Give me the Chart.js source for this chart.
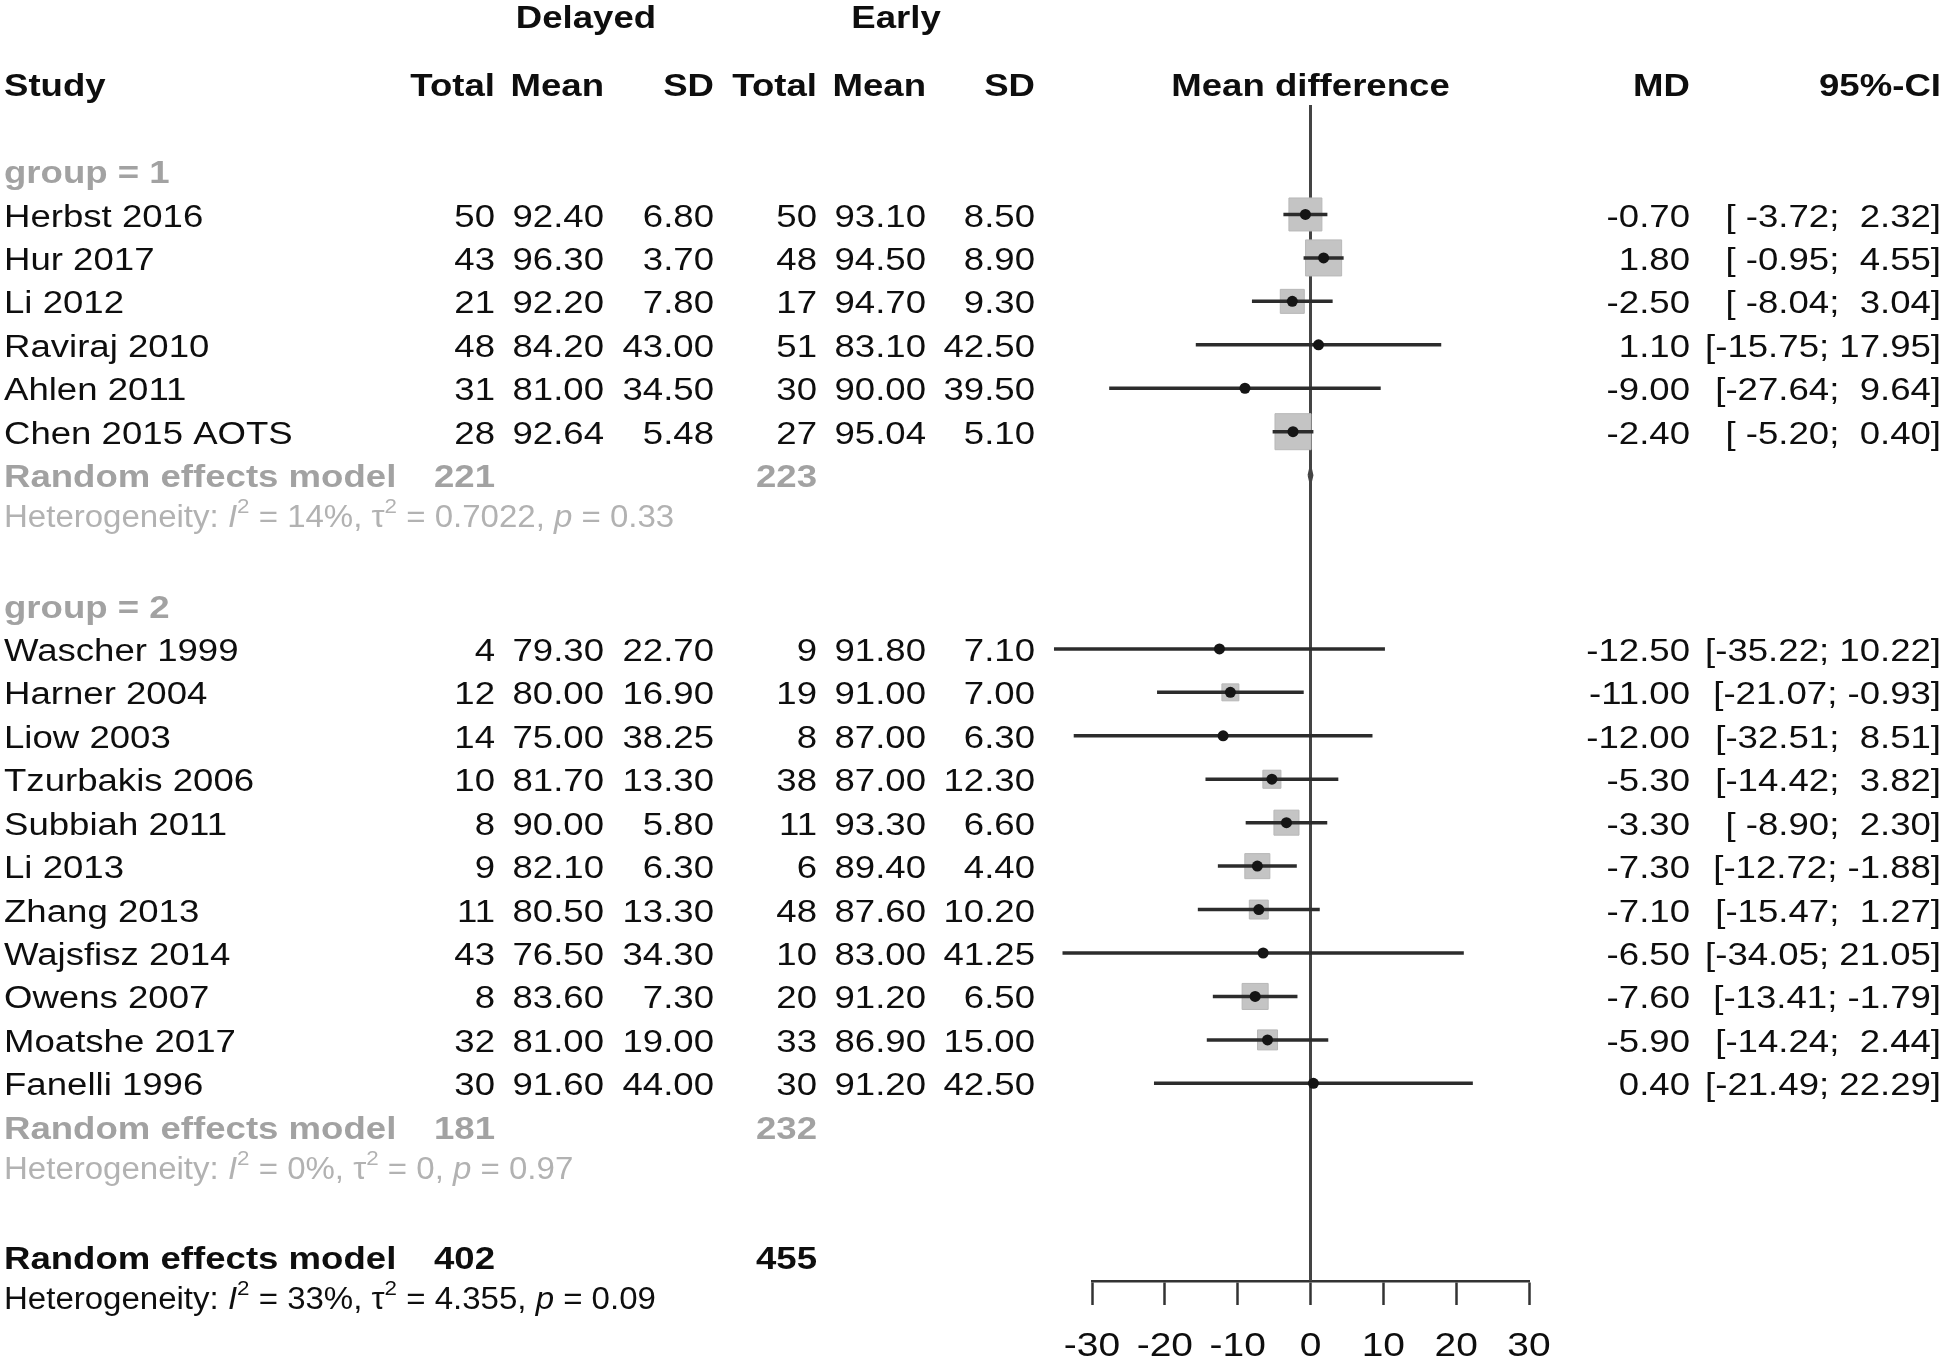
<!DOCTYPE html>
<html><head><meta charset="utf-8">
<script src="https://cdn.jsdelivr.net/npm/chart.js@4/dist/chart.umd.min.js"></script>
<style>html,body{margin:0;padding:0;background:#fff;}canvas{display:block;}</style>
</head><body>
<canvas id="c" width="1946" height="1361"></canvas>
<script>
// ---------- data ----------
const studies1 = ["Herbst 2016","Hur 2017","Li 2012","Raviraj 2010","Ahlen 2011","Chen 2015 AOTS"];
const delayedTotal1 = [50,43,21,48,31,28];
const delayedMean1 = [92.40,96.30,92.20,84.20,81.00,92.64];
const delayedSD1 = [6.80,3.70,7.80,43.00,34.50,5.48];
const earlyTotal1 = [50,48,17,51,30,27];
const earlyMean1 = [93.10,94.50,94.70,83.10,90.00,95.04];
const earlySD1 = [8.50,8.90,9.30,42.50,39.50,5.10];
const md1 = [-0.70,1.80,-2.50,1.10,-9.00,-2.40];
const lower1 = [-3.72,-0.95,-8.04,-15.75,-27.64,-5.20];
const upper1 = [2.32,4.55,3.04,17.95,9.64,0.40];
const weight1 = [17.0,20.3,9.0,0.25,0.25,20.3];

const studies2 = ["Wascher 1999","Harner 2004","Liow 2003","Tzurbakis 2006","Subbiah 2011","Li 2013","Zhang 2013","Wajsfisz 2014","Owens 2007","Moatshe 2017","Fanelli 1996"];
const delayedTotal2 = [4,12,14,10,8,9,11,43,8,32,30];
const delayedMean2 = [79.30,80.00,75.00,81.70,90.00,82.10,80.50,76.50,83.60,81.00,91.60];
const delayedSD2 = [22.70,16.90,38.25,13.30,5.80,6.30,13.30,34.30,7.30,19.00,44.00];
const earlyTotal2 = [9,19,8,38,11,6,48,10,20,33,30];
const earlyMean2 = [91.80,91.00,87.00,87.00,93.30,89.40,87.60,83.00,91.20,86.90,91.20];
const earlySD2 = [7.10,7.00,6.30,12.30,6.60,4.40,10.20,41.25,6.50,15.00,42.50];
const md2 = [-12.50,-11.00,-12.00,-5.30,-3.30,-7.30,-7.10,-6.50,-7.60,-5.90,0.40];
const lower2 = [-35.22,-21.07,-32.51,-14.42,-8.90,-12.72,-15.47,-34.05,-13.41,-14.24,-21.49];
const upper2 = [10.22,-0.93,8.51,3.82,2.30,-1.88,1.27,21.05,-1.79,2.44,22.29];
const weight2 = [0.25,4.5,0.25,5.1,9.8,9.8,5.6,0.25,10.6,6.25,0.25];

const groupLabels = ["group = 1","group = 2"];
const groupTotalsDelayed = [221,181];
const groupTotalsEarly = [223,232];
const groupI2 = ["14%","0%"];
const groupTau2 = ["0.7022","0"];
const groupP = ["0.33","0.97"];
const pooled1 = [-0.3, 0.0, 0.3]; // tiny subgroup-1 summary diamond (lo, est, hi)

const overallDelayed = 402, overallEarly = 455;
const overallI2 = "33%", overallTau2 = "4.355", overallP = "0.09";

const xTickValues = [-30,-20,-10,0,10,20,30];

// ---------- layout rows ----------
const rowsG1 = studies1.map((_, i) => 1 + i);            // 1..6
const reRow1 = 7, hetRow1 = 8, grpRow1 = 0;
const grpRow2 = 10;
const rowsG2 = studies2.map((_, i) => 11 + i);           // 11..21
const reRow2 = 22, hetRow2 = 23;
const reRowAll = 25, hetRowAll = 26;
const Y_MIN = -1.52, Y_MAX = 25.55;

const FONT = "'Liberation Sans', Arial, Helvetica, sans-serif";
const SX = 1.18;
const TY = 3.5; // baseline nudge for table text

function fmt(v){ return v.toFixed(2); }
function ciStr(lo, hi){ return "[" + fmt(lo).padStart(6," ") + "; " + fmt(hi).padStart(5," ") + "]"; }

// ---------- datasets ----------
const datasets = [];
const allMD = md1.concat(md2), allLo = lower1.concat(lower2), allHi = upper1.concat(upper2);
const allRows = rowsG1.concat(rowsG2), allW = weight1.concat(weight2);

// dots (top)
datasets.push({type:'scatter', order:0, clip:false,
  data: allMD.map((m,i)=>({x:m, y:allRows[i]})),
  pointStyle:'circle', pointRadius:5.5, backgroundColor:'#151515', borderWidth:0});
// CI lines
allMD.forEach((m,i)=>{
  datasets.push({type:'line', order:1, clip:false,
    data:[{x:allLo[i], y:allRows[i]},{x:allHi[i], y:allRows[i]}],
    borderColor:'#2c2c2c', borderWidth:3.5, pointRadius:0});
});
// subgroup 1 tiny diamond
datasets.push({type:'line', order:1, clip:false,
  data:[{x:pooled1[0],y:reRow1},{x:pooled1[1],y:reRow1-0.22},{x:pooled1[2],y:reRow1},{x:pooled1[1],y:reRow1+0.22},{x:pooled1[0],y:reRow1}],
  borderColor:'#444', borderWidth:1.5, pointRadius:0});
// squares
datasets.push({type:'scatter', order:2, clip:false,
  data: allMD.map((m,i)=>({x:m, y:allRows[i]})),
  pointStyle:'rect', pointRadius: allW.map(w => 8*Math.sqrt(w)/ (2*Math.SQRT1_2)),
  backgroundColor:'#c4c4c4', borderColor:'#b8b8b8', borderWidth:1});
// zero line
datasets.push({type:'line', order:3, clip:false,
  data:[{x:0,y:Y_MIN},{x:0,y:Y_MAX}], borderColor:'#444', borderWidth:3, pointRadius:0});

// ---------- text plugin ----------
function drawText(ctx, s, x, y, opt){
  ctx.save();
  ctx.font = opt.font;
  ctx.fillStyle = opt.color || '#0e0e0e';
  ctx.textBaseline = 'middle';
  ctx.textAlign = opt.align || 'left';
  ctx.translate(x, y);
  ctx.scale(opt.sx || SX, 1);
  ctx.fillText(s, 0, 0);
  ctx.restore();
}
function drawHet(ctx, x, y, I2, tau2, p, color){
  const size = 31, sx = 1.065;
  const segs = [["Heterogeneity: ","n"],["I","i"],["2","s"],[" = "+I2+", ","n"],["\u03C4","n"],["2","s"],[" = "+tau2+", ","n"],["p","i"],[" = "+p,"n"]];
  let cx = x;
  ctx.save();
  ctx.fillStyle = color; ctx.textBaseline = 'middle'; ctx.textAlign = 'left';
  segs.forEach(([t,k])=>{
    let f, dy = 0;
    if (k === 'n') f = size + "px " + FONT;
    else if (k === 'i') f = "italic " + size + "px " + FONT;
    else { f = Math.round(size*0.68) + "px " + FONT; dy = -11; }
    ctx.font = f;
    ctx.save(); ctx.translate(cx, y + dy); ctx.scale(sx,1); ctx.fillText(t,0,0); ctx.restore();
    cx += ctx.measureText(t).width * sx;
  });
  ctx.restore();
}

const COL = {study:4, dT:495, dM:604, dS:714, eT:817, eM:926, eS:1035, md:1690, ci:1941};

const textPlugin = {
  id:'forestText',
  afterDraw(chart){
    const ctx = chart.ctx, ys = chart.scales.y, xs = chart.scales.x;
    const Y = r => ys.getPixelForValue(r) + TY;
    const reg = "31px " + FONT, bold = "bold 31px " + FONT;
    const black = '#0e0e0e', gray = '#a2a2a2', lgray = '#b2b2b2';
    // top headers
    drawText(ctx, "Delayed", 586, 19, {font:bold, align:'center'});
    drawText(ctx, "Early", 896, 19, {font:bold, align:'center'});
    const hy = Y(-2);
    drawText(ctx, "Study", COL.study, hy, {font:bold});
    [["Total",COL.dT],["Mean",COL.dM],["SD",COL.dS],["Total",COL.eT],["Mean",COL.eM],["SD",COL.eS],["MD",COL.md],["95%-CI",COL.ci]]
      .forEach(([t,x])=>drawText(ctx, t, x, hy, {font:bold, align:'right'}));
    drawText(ctx, "Mean difference", xs.getPixelForValue(0), hy, {font:bold, align:'center'});

    function studyRows(names, dT, dM, dS, eT, eM, eS, md, lo, hi, rows){
      names.forEach((n,i)=>{
        const y = Y(rows[i]);
        drawText(ctx, n, COL.study, y, {font:reg, color:black});
        drawText(ctx, String(dT[i]), COL.dT, y, {font:reg, align:'right'});
        drawText(ctx, fmt(dM[i]), COL.dM, y, {font:reg, align:'right'});
        drawText(ctx, fmt(dS[i]), COL.dS, y, {font:reg, align:'right'});
        drawText(ctx, String(eT[i]), COL.eT, y, {font:reg, align:'right'});
        drawText(ctx, fmt(eM[i]), COL.eM, y, {font:reg, align:'right'});
        drawText(ctx, fmt(eS[i]), COL.eS, y, {font:reg, align:'right'});
        drawText(ctx, fmt(md[i]), COL.md, y, {font:reg, align:'right'});
        drawText(ctx, ciStr(lo[i],hi[i]), COL.ci, y, {font:reg, align:'right'});
      });
    }
    const H = r => ys.getPixelForValue(r);
    // group 1
    drawText(ctx, groupLabels[0], COL.study, Y(grpRow1), {font:bold, color:gray});
    studyRows(studies1, delayedTotal1, delayedMean1, delayedSD1, earlyTotal1, earlyMean1, earlySD1, md1, lower1, upper1, rowsG1);
    drawText(ctx, "Random effects model", COL.study, Y(reRow1), {font:bold, color:gray});
    drawText(ctx, String(groupTotalsDelayed[0]), COL.dT, Y(reRow1), {font:bold, color:gray, align:'right'});
    drawText(ctx, String(groupTotalsEarly[0]), COL.eT, Y(reRow1), {font:bold, color:gray, align:'right'});
    drawHet(ctx, COL.study, H(hetRow1), groupI2[0], groupTau2[0], groupP[0], lgray);
    // group 2
    drawText(ctx, groupLabels[1], COL.study, Y(grpRow2), {font:bold, color:gray});
    studyRows(studies2, delayedTotal2, delayedMean2, delayedSD2, earlyTotal2, earlyMean2, earlySD2, md2, lower2, upper2, rowsG2);
    drawText(ctx, "Random effects model", COL.study, Y(reRow2), {font:bold, color:gray});
    drawText(ctx, String(groupTotalsDelayed[1]), COL.dT, Y(reRow2), {font:bold, color:gray, align:'right'});
    drawText(ctx, String(groupTotalsEarly[1]), COL.eT, Y(reRow2), {font:bold, color:gray, align:'right'});
    drawHet(ctx, COL.study, H(hetRow2), groupI2[1], groupTau2[1], groupP[1], lgray);
    // overall
    drawText(ctx, "Random effects model", COL.study, Y(reRowAll), {font:bold});
    drawText(ctx, String(overallDelayed), COL.dT, Y(reRowAll), {font:bold, align:'right'});
    drawText(ctx, String(overallEarly), COL.eT, Y(reRowAll), {font:bold, align:'right'});
    drawHet(ctx, COL.study, H(hetRowAll), overallI2, overallTau2, overallP, black);
    // x tick labels (from the scale's own ticks)
    xs.ticks.forEach((t,i)=>{
      drawText(ctx, String(t.value), xs.getPixelForTick(i), 1347, {font:"33px "+FONT, align:'center'});
    });
  }
};

new Chart(document.getElementById('c'), {
  data:{datasets},
  options:{
    responsive:false, animation:false, devicePixelRatio:1,
    layout:{padding:{left:1092, right:1946-1529, top:105, bottom:0}},
    plugins:{legend:{display:false}, tooltip:{enabled:false}},
    scales:{
      x:{type:'linear', min:-30, max:30,
         afterBuildTicks: s => { s.ticks = xTickValues.map(v=>({value:v})); },
         afterFit: s => { s.height = 1361 - 1281; },
         grid:{drawOnChartArea:false, drawTicks:true, tickLength:24, tickWidth:2.5, tickColor:'#333'},
         border:{display:true, color:'#333', width:2.5},
         ticks:{color:'rgba(0,0,0,0)', font:{size:12}}},
      y:{type:'linear', display:false, reverse:true, min:Y_MIN, max:Y_MAX}
    }
  },
  plugins:[textPlugin]
});
</script>
</body></html>
